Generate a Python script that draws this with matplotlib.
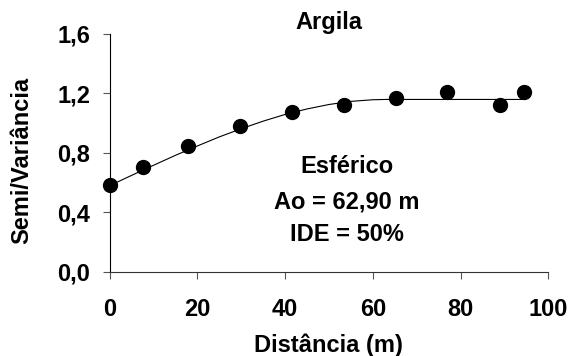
#!/usr/bin/env python
from __future__ import annotations

import matplotlib

matplotlib.use("Agg")
import matplotlib.pyplot as plt

# experimental semivariance (points)
lag_distance = [0.0, 7.6, 17.8, 29.7, 41.5, 53.4, 65.2, 77.0, 88.9, 94.4]
semivariance = [0.585, 0.708, 0.847, 0.984, 1.078, 1.123, 1.168, 1.212, 1.123, 1.212]

# fitted spherical model (line)
model_distance = [0, 5, 10, 15, 20, 25, 30, 35, 40, 45, 50, 55, 60, 62.9, 94.5]
model_gamma = [0.580, 0.649, 0.717, 0.784, 0.847, 0.908, 0.963, 1.014, 1.059,
               1.096, 1.126, 1.147, 1.158, 1.160, 1.160]

x_ticks = [0, 20, 40, 60, 80, 100]
y_ticks = [0.0, 0.4, 0.8, 1.2, 1.6]
y_tick_labels = ["0,0", "0,4", "0,8", "1,2", "1,6"]

title = "Argila"
model_text = ["Esférico", "Ao = 62,90 m", "IDE = 50%"]
model_text_y = [0.666, 0.428, 0.208]


def main() -> None:
    plt.rcParams["font.family"] = ["Liberation Sans", "DejaVu Sans"]
    plt.rcParams["font.weight"] = "bold"

    fig = plt.figure(figsize=(5.71, 3.56), dpi=100)
    ax = fig.add_axes([0.1918, 0.236, 0.7685, 0.6685])

    ax.plot(model_distance, model_gamma, color="black", linewidth=0.8, clip_on=False)
    ax.plot(lag_distance, semivariance, linestyle="none", marker="o", markersize=10,
            color="black", clip_on=False, zorder=3)

    ax.set_xlim(0, 100)
    ax.set_ylim(0, 1.6)
    ax.set_xticks(x_ticks)
    ax.set_yticks(y_ticks)
    ax.set_yticklabels(y_tick_labels)

    for side in ("top", "right"):
        ax.spines[side].set_visible(False)
    ax.spines["left"].set_linewidth(0.8)
    ax.spines["bottom"].set_linewidth(0.8)
    ax.spines["bottom"].set_color("#333333")

    ax.tick_params(axis="x", direction="out", length=5, width=0.8, color="#555555",
                   labelsize=17, pad=14)
    ax.tick_params(axis="y", direction="out", length=5, width=0.8, color="#555555",
                   labelsize=17, pad=9)

    ax.set_xlabel("Distância (m)", fontsize=17, fontweight="bold")
    ax.xaxis.label.set_va("baseline")
    ax.xaxis.set_label_coords(0.5, -0.335)
    ax.set_ylabel("Semi/Variância", fontsize=17, fontweight="bold")
    ax.yaxis.label.set_va("center")
    ax.yaxis.set_label_coords(-0.199, 0.47)
    ax.set_title(title, fontsize=17, fontweight="bold", pad=2)

    for text, ty in zip(model_text, model_text_y):
        ax.text(54, ty, text, ha="center", va="baseline", fontsize=17)

    fig.savefig("out.png", dpi=100)
    plt.close(fig)


if __name__ == "__main__":
    main()
